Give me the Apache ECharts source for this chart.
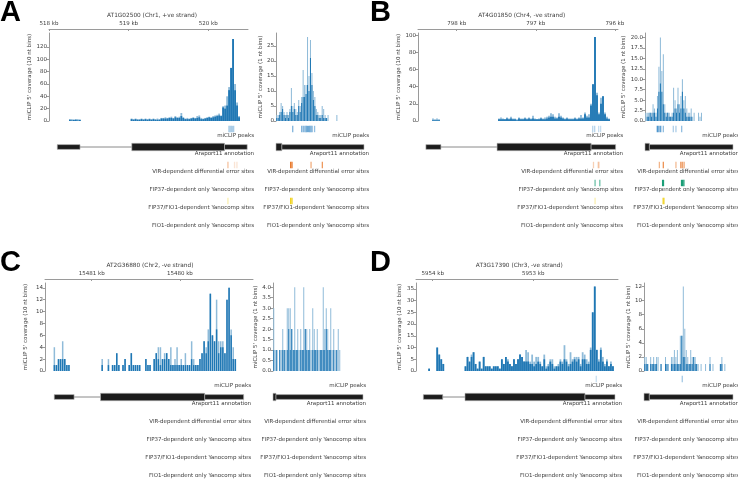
<!DOCTYPE html>
<html>
<head>
<meta charset="utf-8">
<script src="https://cdn.jsdelivr.net/npm/echarts@6/dist/echarts.min.js"></script>
<style>
html,body{margin:0;padding:0;background:#fff}
#chart{width:738px;height:479px}
</style>
</head>
<body>
<div id="chart"></div>
<script>
// ---------- data ----------
// A: AT1G02500, left = 10 nt coverage (binned), right = 1 nt zoom
const aTitle = 'AT1G02500 (Chr1, +ve strand)';
const aKbRange = [518, 520.5];
const aKbTicks = [518, 519, 520];
const aYMax = 142.6, aYTicks = [0, 20, 40, 60, 80, 100, 120];
const aCovLight = [
  0,0,0,0,0,0,0,0,0,0, 3,3,2,3,3,2,0,0,0,0, 0,0,0,0,0,0,0,0,0,0, 0,0,0,0,0,0,0,0,0,0,
  0,4,3,4,3,3,4,3,4,3, 4,3,4,3,4,3,5,5,6,5, 6,7,5,8,6,7,13,6,4,5, 4,5,6,5,8,9,5,4,5,6,
  7,6,8,9,10,12,9,24,25,40, 55,86,133,60,30,8,0,0,0,0];
const aCovDark = [
  0,0,0,0,0,0,0,0,0,0, 2,1,2,2,1,2,0,0,0,0, 0,0,0,0,0,0,0,0,0,0, 0,0,0,0,0,0,0,0,0,0,
  0,3,2,3,2,2,3,2,3,2, 3,2,3,2,2,2,4,4,4,4, 5,5,4,6,5,5,8,5,3,3, 3,4,5,4,5,6,3,3,4,5,
  6,5,6,7,8,9,8,22,20,25, 50,86,133,50,25,6,0,0,0,0];
const aZYMax = 29.3, aZYTicks = [0, 5, 10, 15, 20, 25];
const aZoomLight = [
  2,2,3,6,5,3,2,3,2,4, 11,5,6,4,3,7,5,8,17,12, 12,28,15,27,16,10,8,4,3,2,
  2,5,4,2,1,2,0,0,0,0, 0,2,0,0,0,0,0,0,0,0, 0,0,0,0,0,0,0,0,0,0];
const aZoomDark = [
  1,1,2,3,4,2,1,2,1,3, 5,3,4,2,2,5,3,6,8,8, 9,12,10,21,12,7,5,2,2,1,
  1,2,1,1,1,0,0,0,0,0, 0,0,0,0,0,0,0,0,0,0, 0,0,0,0,0,0,0,0,0,0];
const aPeaks = [[520.26,0.45],[520.275,0.45],[520.29,0.45],[520.305,0.45],[520.32,0.45]];
const aZPeaks = [[11.4,0.7],[17.5,0.7],[18.6,0.7],[19.7,0.7],[20.6,0.8],[21.4,0.8],[22.2,0.8],[23.0,0.8],[23.8,0.7],[24.6,0.7],[26.3,0.6]];
const aGene = [[518.104,518.39,'utr'],[518.39,519.04,'intron'],[519.04,520.205,'cds'],[520.205,520.49,'utr']];
const aZGene = [[0,4,'cds'],[4,60,'utr']];
const aVir = [[520.248,0.45],[520.331,0.2],[520.361,0.2]];
const aZVir = [[10.0,1],[10.9,1],[23.9,0.6],[31.6,0.75]];
const aFip37 = [], aZFip37 = [];
const aFip37Fio1 = [[520.248,0.35]];
const aZFip37Fio1 = [[10.0,1],[10.9,1]];

// B: AT4G01850 (-ve strand, kb axis runs right to left)
const bTitle = 'AT4G01850 (Chr4, -ve strand)';
const bKbRange = [795.96, 798.49];
const bKbTicks = [796, 797, 798];
const bYMax = 102.7, bYTicks = [0, 20, 40, 60, 80, 100];
const bCovLight = [
  0,0,0,0,0,0,0,3,2,3, 2,0,0,0,0,0,0,0,0,0, 0,0,0,0,0,0,0,0,0,0, 0,0,0,0,0,0,0,0,0,0,
  3,4,3,2,4,3,5,3,3,2, 4,3,3,4,3,4,3,6,3,2, 3,4,3,4,5,6,9,8,5,4, 9,6,4,3,4,3,3,3,4,3,
  4,7,4,10,6,8,20,43,98,33, 10,27,29,10,5,3,0,0,0,0];
const bCovDark = [
  0,0,0,0,0,0,0,1,1,1, 1,0,0,0,0,0,0,0,0,0, 0,0,0,0,0,0,0,0,0,0, 0,0,0,0,0,0,0,0,0,0,
  2,2,2,2,3,2,3,2,2,1, 3,2,2,3,2,3,2,3,2,2, 2,3,2,2,3,4,5,5,3,3, 5,4,3,2,3,2,2,2,3,2,
  3,3,3,8,4,4,18,43,98,30, 8,20,29,8,3,2,0,0,0,0];
const bZYMax = 21.1, bZYTicks = [0, 2.5, 5, 7.5, 10, 12.5, 15, 17.5, 20];
const bZoomLight = [
  2,2,2,2,2,4,3,2,6,13, 20,12,16,4,2,2,2,1,2,8, 5,3,8,4,6,10,5,6,3,2,
  2,3,1,2,0,0,2,1,2,0, 0,0,0,0,0,0,0,0,0,0, 0,0,0,0,0,0,0,0,0,0];
const bZoomDark = [
  0,1,1,2,1,2,2,1,3,7, 9,7,4,2,1,2,1,1,1,2, 3,2,4,2,3,7,3,2,1,1,
  1,1,0,0,0,0,0,0,0,0, 0,0,0,0,0,0,0,0,0,0, 0,0,0,0,0,0,0,0,0,0];
const bPeaks = [[796.28,0.4],[796.255,0.4],[796.205,0.3],[796.18,0.3]];
const bZPeaks = [[8.4,1],[9.5,1],[10.7,0.9],[12.5,0.6],[19.3,0.45],[21.1,0.45],[25.0,0.6]];
const bGene = [[798.39,798.2,'utr'],[798.2,797.49,'intron'],[797.49,796.3,'cds'],[796.3,795.99,'utr']];
const bZGene = [[0,3,'cds'],[3,60,'utr']];
const bVir = [[796.27,0.35],[796.21,0.35],[796.2,0.3]];
const bZVir = [[9.8,0.55],[12.5,0.8],[21.1,0.5],[24.5,0.9],[25.7,0.7],[26.8,0.5]];
const bFip37 = [[796.25,0.65],[796.19,0.65]];
const bZFip37 = [[12.0,1],[12.6,1],[24.9,1],[25.6,1],[26.5,1]];
const bFip37Fio1 = [[796.25,0.35]];
const bZFip37Fio1 = [[12.4,1],[13.1,0.6]];

// C: AT2G36880 (-ve strand), no peaks or sites
const cTitle = 'AT2G36880 (Chr2, -ve strand)';
const cKbRange = [15479.17, 15481.53];
const cKbTicks = [15480, 15481];
const cYMax = 14.8, cYTicks = [0, 2, 4, 6, 8, 10, 12, 14];
const cCovLight = [
  0,0,0,0,4,1,2,2,5,2, 1,1,0,0,0,0,0,0,0,0, 0,0,0,0,0,0,0,2,0,0, 2,0,1,1,3,1,0,1,2,0,
  1,3,1,1,1,1,0,0,2,1, 1,0,2,3,4,4,2,3,3,2, 4,1,2,4,1,2,1,3,1,1, 5,2,1,1,2,3,5,4,7,13,
  6,5,12,5,5,5,3,12,14,7, 4,2,0,0,0,0,0,0,0,0];
const cCovDark = [
  0,0,0,0,1,1,2,2,2,2, 1,1,0,0,0,0,0,0,0,0, 0,0,0,0,0,0,0,1,0,0, 1,0,1,1,3,1,0,1,2,0,
  1,3,1,1,1,1,0,0,2,1, 1,0,2,3,2,1,2,2,3,2, 1,1,1,1,1,1,1,1,1,1, 2,1,1,1,2,3,5,3,5,13,
  6,5,7,3,4,4,3,12,14,6, 2,2,0,0,0,0,0,0,0,0];
const cZYMax = 4.2, cZYTicks = [0, 0.5, 1, 1.5, 2, 2.5, 3, 3.5, 4];
const cZoomLight = [
  3,1,1,0,1,1,2,1,1,3, 3,3,2,1,4,1,2,1,2,1, 4,2,2,1,2,1,3,2,1,2,
  1,1,1,4,2,3,2,1,3,1, 2,1,1,2,1,0,0,0,0,0, 0,0,0,0,0,0,0,0,0,0];
const cZoomDark = [
  1,0,1,0,1,0,1,1,0,1, 2,1,2,1,1,1,1,0,1,1, 1,2,1,1,1,0,1,1,1,1,
  0,1,1,1,1,2,1,1,1,0, 1,0,1,0,0,0,0,0,0,0, 0,0,0,0,0,0,0,0,0,0];
const cPeaks = [], cZPeaks = [];
const cGene = [[15481.425,15481.2,'utr'],[15481.2,15480.9,'intron'],[15480.9,15479.718,'cds'],[15479.718,15479.276,'utr']];
const cZGene = [[0,2,'cds'],[2,60,'utr']];
const cVir = [], cZVir = [], cFip37 = [], cZFip37 = [], cFip37Fio1 = [], cZFip37Fio1 = [];

// D: AT3G17390 (-ve strand)
const dTitle = 'AT3G17390 (Chr3, -ve strand)';
const dKbRange = [5952.158, 5954.166];
const dKbTicks = [5953, 5954];
const dYMax = 37.5, dYTicks = [0, 5, 10, 15, 20, 25, 30, 35];
const dCovLight = [
  0,0,0,0,0,0,1,0,0,0, 10,7,5,3,0,0,0,0,0,0, 0,0,0,0,2,6,4,7,8,3, 1,4,1,6,2,2,2,1,2,2,
  2,1,5,3,6,5,3,2,5,3, 5,7,6,4,9,8,4,7,4,6, 6,4,2,7,2,3,5,5,2,2, 3,5,4,11,5,3,8,5,6,6,
  6,3,8,7,5,4,10,25,36,9, 5,10,6,3,5,2,4,2,0,0];
const dCovDark = [
  0,0,0,0,0,0,1,0,0,0, 10,7,5,3,0,0,0,0,0,0, 0,0,0,0,2,6,4,6,8,3, 1,4,1,6,2,2,2,1,2,2,
  2,1,5,3,6,4,3,2,5,3, 5,7,6,4,4,4,3,3,2,3, 4,3,2,5,1,2,4,3,1,2, 2,4,3,5,4,2,3,4,5,4,
  5,2,5,5,3,3,9,25,36,9, 4,9,4,2,4,2,3,2,0,0];
const dZYMax = 12.5, dZYTicks = [0, 2, 4, 6, 8, 10, 12];
const dZoomLight = [
  2,2,1,0,2,1,2,1,2,2, 0,1,0,0,2,1,1,0,2,2, 3,2,3,1,5,5,12,6,3,2,
  1,3,2,2,2,1,1,0,1,0, 0,1,0,0,2,0,1,0,0,0, 0,1,2,0,1,0,0,0,0,0];
const dZoomDark = [
  1,1,1,0,1,1,1,1,1,0, 0,1,0,0,1,1,0,0,1,1, 1,1,1,1,1,5,2,2,1,1,
  1,1,1,2,1,1,0,0,0,0, 0,0,0,0,1,0,0,0,0,0, 0,1,1,0,0,0,0,0,0,0];
const dPeaks = [[5952.374,0.3]];
const dZPeaks = [[25.8,0.5]];
const dGene = [[5954.093,5953.9,'utr'],[5953.9,5953.679,'intron'],[5953.679,5952.486,'cds'],[5952.486,5952.188,'utr']];
const dZGene = [[0,3.6,'cds'],[3.6,60,'utr']];
const dVir = [], dZVir = [], dFip37 = [], dZFip37 = [], dFip37Fio1 = [], dZFip37Fio1 = [];

const trackNames = ['miCLIP peaks', 'Araport11 annotation', 'VIR-dependent differential error sites',
  'FIP37-dependent only Yanocomp sites', 'FIP37/FIO1-dependent Yanocomp sites', 'FIO1-dependent only Yanocomp sites'];

// ---------- layout ----------
const FONT = 'DejaVu Sans';
const TXT = '#3c3c3c', AXIS = '#9a9a9a';
const LIGHT = '#8fbbd9', DARK = '#1f77b4';
const MARK = {peaks: '#4a93cc', vir: '#e8782a', fip37: '#1b9e77', fip37fio1: '#f0d21c', fio1: '#7b5fb5'};

const columns = [
  {panel:'A', title:aTitle, kb:aKbRange, kbTicks:aKbTicks, inverse:false, light:aCovLight, dark:aCovDark, yMax:aYMax, yTicks:aYTicks,
   peaks:aPeaks, gene:aGene, vir:aVir, fip37:aFip37, fip37fio1:aFip37Fio1, bin:'10',
   left:49, width:199, dy:0, nameGap:13, textRight:254, titleX:152, letterX:0, gap:'8%'},
  {light:aZoomLight, dark:aZoomDark, yMax:aZYMax, yTicks:aZYTicks, peaks:aZPeaks, gene:aZGene, vir:aZVir, fip37:aZFip37, fip37fio1:aZFip37Fio1, bin:'1',
   left:276, width:88, dy:0, nameGap:11, textRight:369, gap:'30%'},
  {panel:'B', title:bTitle, kb:bKbRange, kbTicks:bKbTicks, inverse:true, light:bCovLight, dark:bCovDark, yMax:bYMax, yTicks:bYTicks,
   peaks:bPeaks, gene:bGene, vir:bVir, fip37:bFip37, fip37fio1:bFip37Fio1, bin:'10',
   left:418, width:200, dy:0, nameGap:13.5, textRight:623, titleX:521.7, letterX:370, gap:'8%'},
  {light:bZoomLight, dark:bZoomDark, yMax:bZYMax, yTicks:bZYTicks, dec:1, peaks:bZPeaks, gene:bZGene, vir:bZVir, fip37:bZFip37, fip37fio1:bZFip37Fio1, bin:'1',
   left:645, width:88, dy:0, nameGap:15.5, textRight:739, gap:'30%'},
  {panel:'C', title:cTitle, kb:cKbRange, kbTicks:cKbTicks, inverse:true, light:cCovLight, dark:cCovDark, yMax:cYMax, yTicks:cYTicks,
   peaks:cPeaks, gene:cGene, vir:cVir, fip37:cFip37, fip37fio1:cFip37Fio1, bin:'10',
   left:45, width:208, dy:250, nameGap:16, textRight:251, titleX:150, letterX:0, gap:'28%'},
  {light:cZoomLight, dark:cZoomDark, yMax:cZYMax, yTicks:cZYTicks, dec:1, peaks:cZPeaks, gene:cZGene, vir:cZVir, fip37:cZFip37, fip37fio1:cZFip37Fio1, bin:'1',
   left:273, width:90, dy:250, nameGap:13.5, textRight:366, gap:'45%'},
  {panel:'D', title:dTitle, kb:dKbRange, kbTicks:dKbTicks, inverse:true, light:dCovLight, dark:dCovDark, yMax:dYMax, yTicks:dYTicks,
   peaks:dPeaks, gene:dGene, vir:dVir, fip37:dFip37, fip37fio1:dFip37Fio1, bin:'10',
   left:416, width:202, dy:250, nameGap:13, textRight:622, titleX:519.3, letterX:370, gap:'12%'},
  {light:dZoomLight, dark:dZoomDark, yMax:dZYMax, yTicks:dZYTicks, peaks:dZPeaks, gene:dZGene, vir:dZVir, fip37:dZFip37, fip37fio1:dZFip37Fio1, bin:'1',
   left:644, width:89, dy:250, nameGap:12, textRight:739, gap:'40%'}
];

const KIND = {utr: 1, cds: 2, intron: 3};

// one item = [x0, x1, row, kind, strength]; kind 0 = site tick
function renderTrack(params, api) {
  const p0 = api.coord([api.value(0), api.value(2)]);
  const p1 = api.coord([api.value(1), api.value(2)]);
  const a = Math.min(p0[0], p1[0]), b = Math.max(p0[0], p1[0]);
  const y = p0[1];
  const kind = api.value(3);
  if (kind === 3) {
    return {type: 'line', shape: {x1: a, y1: y, x2: b, y2: y}, style: {stroke: '#8a8a8a', lineWidth: 1}};
  }
  if (kind === 0) {
    return {type: 'rect', shape: {x: a - 0.65, y: y - 3.2, width: 1.3, height: 6.4},
      style: {fill: api.visual('color'), opacity: api.value(4)}};
  }
  const h = kind === 2 ? 7.4 : 4.8;
  return {type: 'rect', shape: {x: a, y: y - h / 2, width: b - a, height: h},
    style: {fill: '#1c1c1c', stroke: '#b5b5b5', lineWidth: 0.6}};
}

const grids = [], xAxes = [], yAxes = [], series = [], graphics = [];

columns.forEach(c => {
  const gMain = grids.length;
  grids.push({left: c.left, top: 33 + c.dy, width: c.width, height: 88});
  const gTrack = grids.length;
  grids.push({left: c.left, top: 120 + c.dy, width: c.width, height: 108});

  const n = c.light.length;
  const xCat = xAxes.length;
  xAxes.push({type: 'category', gridIndex: gMain, data: c.light.map((_, i) => i), show: false});
  const range = c.kb ? c.kb : [0, n];
  const xTrack = xAxes.length;
  xAxes.push({type: 'value', gridIndex: gTrack, min: range[0], max: range[1], inverse: !!c.inverse, show: false});
  if (c.kb) {
    xAxes.push({
      type: 'value', gridIndex: gMain, position: 'top', offset: 4,
      min: c.kb[0], max: c.kb[1], inverse: !!c.inverse,
      axisLine: {show: true, lineStyle: {color: AXIS, width: 1}},
      axisTick: {show: true, inside: true, length: 2, customValues: c.kbTicks, lineStyle: {color: AXIS}},
      axisLabel: {customValues: c.kbTicks, formatter: v => v + ' kb', fontSize: 5.5, color: TXT, margin: 2, fontFamily: FONT},
      splitLine: {show: false}
    });
  }

  const yMain = yAxes.length;
  yAxes.push({
    type: 'value', gridIndex: gMain, min: 0, max: c.yMax,
    axisLine: {show: true, lineStyle: {color: AXIS, width: 1}},
    axisTick: {show: true, length: 2.5, customValues: c.yTicks, lineStyle: {color: AXIS}},
    axisLabel: {customValues: c.yTicks, formatter: v => c.dec ? v.toFixed(c.dec) : String(v), fontSize: 5.5, color: TXT, margin: 2, fontFamily: FONT},
    splitLine: {show: false},
    name: "miCLIP 5' coverage (" + c.bin + ' nt bins)', nameLocation: 'middle', nameGap: c.nameGap, nameRotate: 90,
    nameTextStyle: {fontSize: 5.5, color: TXT, fontFamily: FONT}
  });
  const yTrack = yAxes.length;
  yAxes.push({type: 'value', gridIndex: gTrack, min: -0.5, max: 5.5, inverse: true, show: false});

  series.push({type: 'bar', xAxisIndex: xCat, yAxisIndex: yMain, data: c.light, silent: true,
    itemStyle: {color: LIGHT}, barGap: '-100%', barCategoryGap: c.gap});
  series.push({type: 'bar', xAxisIndex: xCat, yAxisIndex: yMain, data: c.dark, silent: true,
    itemStyle: {color: DARK}, barGap: '-100%', barCategoryGap: c.gap});

  const trackSeries = (data, color) => series.push({
    type: 'custom', xAxisIndex: xTrack, yAxisIndex: yTrack, renderItem: renderTrack, data,
    encode: {x: [0, 1], y: 2}, itemStyle: {color}, silent: true, clip: false
  });
  trackSeries(c.gene.map(g => [g[0], g[1], 1, KIND[g[2]], 1]), '#1c1c1c');
  trackSeries(c.peaks.map(p => [p[0], p[0], 0, 0, p[1]]), MARK.peaks);
  trackSeries(c.vir.map(p => [p[0], p[0], 2, 0, p[1]]), MARK.vir);
  trackSeries(c.fip37.map(p => [p[0], p[0], 3, 0, p[1]]), MARK.fip37);
  trackSeries(c.fip37fio1.map(p => [p[0], p[0], 4, 0, p[1]]), MARK.fip37fio1);

  trackNames.forEach((t, r) => {
    graphics.push({type: 'text', x: c.textRight, y: 136 + 18 * r + c.dy, silent: true,
      style: {text: t, align: 'right', verticalAlign: 'middle', textAlign: 'right', textVerticalAlign: 'middle',
        fontSize: 5.5, fontFamily: FONT, fill: TXT}});
  });
  if (c.title) {
    graphics.push({type: 'text', x: c.titleX, y: 15 + c.dy, silent: true,
      style: {text: c.title, align: 'center', verticalAlign: 'middle', textAlign: 'center', textVerticalAlign: 'middle',
        fontSize: 5.8, fontFamily: FONT, fill: TXT}});
    graphics.push({type: 'text', x: c.letterX, y: 13 + c.dy, silent: true,
      style: {text: c.panel, align: 'left', verticalAlign: 'middle', textAlign: 'left', textVerticalAlign: 'middle',
        fontSize: 29, fontWeight: 'bold', fontFamily: 'Liberation Sans', fill: '#000'}});
  }
});

const chart = echarts.init(document.getElementById('chart'));
chart.setOption({
  animation: false,
  backgroundColor: '#fff',
  textStyle: {fontFamily: FONT},
  grid: grids,
  xAxis: xAxes,
  yAxis: yAxes,
  series: series,
  graphic: graphics
});
</script>
</body>
</html>
